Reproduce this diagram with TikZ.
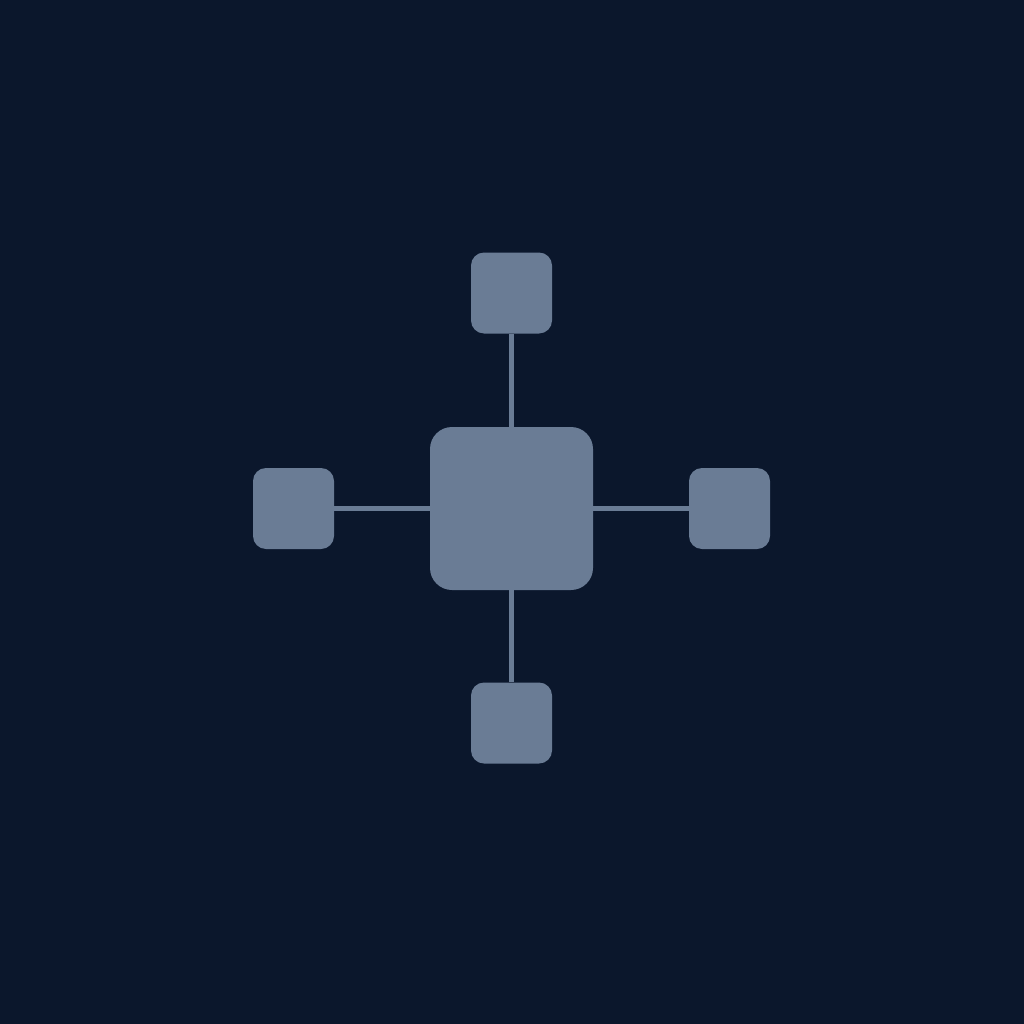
\documentclass[tikz,border=0pt]{standalone}
\definecolor{bg}{HTML}{0B172C}
\definecolor{boxc}{HTML}{6A7C95}
\begin{document}
\begin{tikzpicture}[x=1pt,y=-1pt,
  hub/.style={fill=boxc,draw=none,rounded corners=22pt,minimum width=163pt,minimum height=163pt,inner sep=0pt},
  leaf/.style={fill=boxc,draw=none,rounded corners=13pt,minimum width=81pt,minimum height=81pt,inner sep=0pt},
  link/.style={draw=boxc,line width=4.5pt}]
\fill[bg] (0,0) rectangle (1024,1024);
\useasboundingbox (0,0) rectangle (1024,1024);
\node[hub] (c) at (511.5,508.5) {};
\node[leaf] (t) at (511.5,293) {};
\node[leaf] (b) at (511.5,723) {};
\node[leaf] (l) at (293.5,508.5) {};
\node[leaf] (r) at (729.5,508.5) {};
\draw[link] (c) -- (t);
\draw[link] (c) -- (b);
\draw[link] (c) -- (l);
\draw[link] (c) -- (r);
\end{tikzpicture}
\end{document}
